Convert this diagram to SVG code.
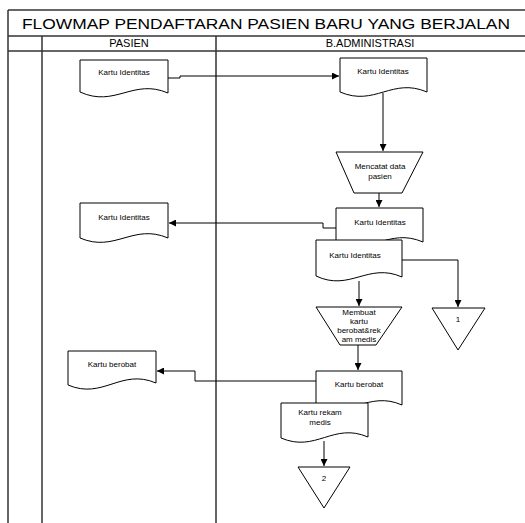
<svg xmlns="http://www.w3.org/2000/svg" width="525" height="523" viewBox="0 0 525 523">
<style>
.frame{stroke:#333;stroke-width:1.5;fill:none}
.shape{fill:#fff;stroke:#000;stroke-width:1}
.conn{fill:none;stroke:#000;stroke-width:1}
text{font-family:"Liberation Sans",Arial,sans-serif;fill:#000}
.t{font-size:8px;text-anchor:middle}
.h{font-size:11px;text-anchor:middle}
</style>
<defs>
<marker id="ah" viewBox="0 0 10 10" refX="10" refY="5" markerWidth="7" markerHeight="7" orient="auto" markerUnits="userSpaceOnUse">
<path d="M0,0 L10,5 L0,10 Z" fill="#000"/>
</marker>
</defs>
<rect width="525" height="523" fill="#fff"/>
<g id="frame">
<line class="frame" x1="8" y1="10" x2="525" y2="10"/>
<line class="frame" x1="8" y1="36" x2="525" y2="36"/>
<line class="frame" x1="8" y1="51" x2="525" y2="51"/>
<line class="frame" x1="8" y1="10" x2="8" y2="523"/>
<line class="frame" x1="42" y1="36" x2="42" y2="523"/>
<line class="frame" x1="216" y1="36" x2="216" y2="523"/>
<text x="266" y="29" font-size="15" text-anchor="middle" textLength="488" lengthAdjust="spacingAndGlyphs">FLOWMAP PENDAFTARAN PASIEN BARU YANG BERJALAN</text>
<text class="h" x="129" y="47">PASIEN</text>
<text class="h" x="370" y="47">B.ADMINISTRASI</text>
</g>
<g id="connectors">
<polyline class="conn" points="168,78 180,78 180,76 339,76" marker-end="url(#ah)"/>
<line class="conn" x1="383" y1="93" x2="383" y2="151" marker-end="url(#ah)"/>
<line class="conn" x1="379" y1="193" x2="379" y2="207" marker-end="url(#ah)"/>
<polyline class="conn" points="336,228 323,228 323,223 169,223" marker-end="url(#ah)"/>
<polyline class="conn" points="402,260 458,260 458,307" marker-end="url(#ah)"/>
<line class="conn" x1="359" y1="281" x2="359" y2="306" marker-end="url(#ah)"/>
<line class="conn" x1="358" y1="345" x2="358" y2="370" marker-end="url(#ah)"/>
<polyline class="conn" points="316,381 195,381 195,371 157,371" marker-end="url(#ah)"/>
<line class="conn" x1="324" y1="441" x2="324" y2="466" marker-end="url(#ah)"/>
</g>
<g id="doc-pasien-kartu-identitas-1">
<path class="shape" d="M80,60 H168 V93 C133,78 115,108 80,92 Z"/>
<text class="t" x="124" y="75">Kartu Identitas</text>
</g>
<g id="doc-admin-kartu-identitas-1">
<path class="shape" d="M340,58 H427 V92 C392,77 375,107 340,92 Z"/>
<text class="t" x="383" y="74">Kartu Identitas</text>
</g>
<g id="proc-mencatat">
<polygon class="shape" points="336,152 423,152 402,193 354,193"/>
<text class="t" x="380" y="169">Mencatat data</text>
<text class="t" x="380" y="179">pasien</text>
</g>
<g id="doc-admin-kartu-identitas-2">
<path class="shape" d="M336,208 H423 V242 C388,227 371,257 336,241 Z"/>
<text class="t" x="380" y="225">Kartu Identitas</text>
</g>
<g id="doc-pasien-kartu-identitas-2">
<path class="shape" d="M80,203 H168 V238 C133,223 115,253 80,238 Z"/>
<text class="t" x="124" y="220">Kartu Identitas</text>
</g>
<g id="doc-admin-kartu-identitas-3">
<path class="shape" d="M316,240 H402 V277 C368,262 350,292 316,276 Z"/>
<text class="t" x="355" y="258">Kartu Identitas</text>
</g>
<g id="proc-membuat">
<polygon class="shape" points="316,307 402,307 376,345 340,345"/>
<text class="t" x="359" y="315">Membuat</text>
<text class="t" x="359" y="324">kartu</text>
<text class="t" x="359" y="333">berobat&amp;rek</text>
<text class="t" x="359" y="342">am medis</text>
</g>
<g id="offpage-1">
<polygon class="shape" points="432,308 485,308 458,350"/>
<text class="t" x="458" y="322">1</text>
</g>
<g id="doc-admin-kartu-berobat">
<path class="shape" d="M316,371 H402 V405 C368,390 350,420 316,404 Z"/>
<text class="t" x="359" y="387">Kartu berobat</text>
</g>
<g id="doc-pasien-kartu-berobat">
<path class="shape" d="M68,351 H156 V383 C121,368 103,400 68,385 Z"/>
<text class="t" x="112" y="367">Kartu berobat</text>
</g>
<g id="doc-admin-kartu-rekam-medis">
<path class="shape" d="M281,403 H368 V437 C333,422 316,453 281,438 Z"/>
<text class="t" x="320" y="415">Kartu rekam</text>
<text class="t" x="320" y="425">medis</text>
</g>
<g id="offpage-2">
<polygon class="shape" points="298,467 350,467 324,508"/>
<text class="t" x="324" y="481">2</text>
</g>
</svg>
